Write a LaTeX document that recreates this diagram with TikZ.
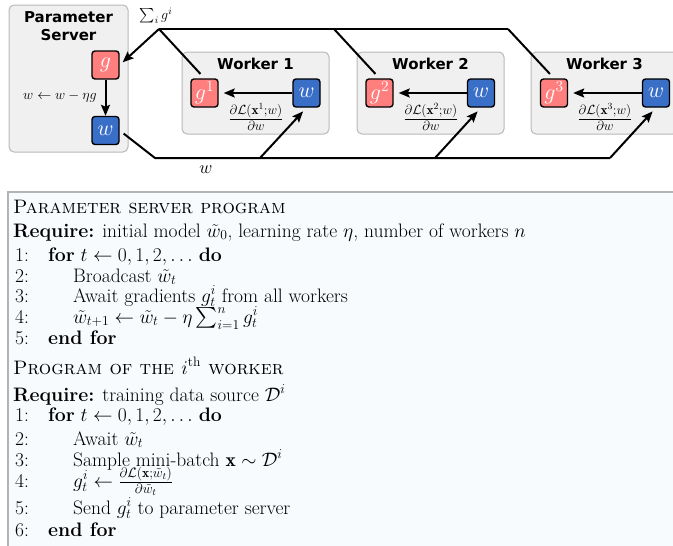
\RequirePackage{fix-cm}
\documentclass[tikz,border=0pt]{standalone}
\usepackage{fontspec}
\usepackage{amsmath}
\newfontfamily\boxfont{DejaVu Sans}
\usetikzlibrary{calc,arrows.meta}

\definecolor{gradred}{HTML}{FF7F7F}
\definecolor{weightblue}{HTML}{3A6FC8}
\definecolor{panelgray}{HTML}{F0F0F0}
\definecolor{panelline}{HTML}{B8B8B8}
\definecolor{algoback}{HTML}{F7FBFE}
\definecolor{algoline}{HTML}{B4B4B4}

\tikzset{
	panel/.style={draw=panelline, fill=panelgray, line width=1pt, rounded corners=5pt, inner sep=0pt},
	gbox/.style={draw=black, fill=gradred, line width=1.4pt, rounded corners=3pt, minimum width=27pt, minimum height=28pt, inner sep=0pt, text=white, font=\fontsize{22}{24}\selectfont},
	wbox/.style={gbox, fill=weightblue},
	wire/.style={line width=2pt},
	push/.style={wire, -{Stealth[length=11pt,width=9pt,inset=2pt]}},
	paneltitle/.style={font=\boxfont\bfseries\fontsize{15}{18}\selectfont, align=center, inner sep=0pt},
	mathlabel/.style={font=\fontsize{14}{16}\selectfont, inner sep=0pt},
	gradlabel/.style={font=\fontsize{19}{21}\selectfont, inner sep=0pt},
	algo/.style={anchor=base west, inner sep=0pt, font=\fontsize{19.5}{21}\selectfont},
}

\begin{document}
\begin{tikzpicture}[x=1pt,y=-1pt]
		%%%%% START %%%%%
		\useasboundingbox (0,0) rectangle (673,546);
		\clip (0,0) rectangle (673,546);
		
		% parameter server
		\node[panel, minimum width=119pt, minimum height=147pt] (server) at (68.5,78.5) {};
		\node[paneltitle] (servertitle) at (68.5,26) {Parameter\\Server};
		\node[gbox] (g) at (105.5,65) {$g$};
		\node[wbox] (w) at (105.5,130.5) {$w$};
		\draw[push] (g) -- (w);
		\node[mathlabel] (update) at (60,97) {$w \leftarrow w - \eta g$};
		
		% workers
		\node[panel, minimum width=147pt, minimum height=82pt] (worker1) at (255.5,93) {};
		\node[panel, minimum width=147pt, minimum height=82pt] (worker2) at (430.5,93) {};
		\node[panel, minimum width=147pt, minimum height=82pt] (worker3) at (604.5,93) {};
		\node[paneltitle] (title1) at (255.5,64) {Worker 1};
		\node[paneltitle] (title2) at (430.5,64) {Worker 2};
		\node[paneltitle] (title3) at (604.5,64) {Worker 3};
		
		\node[gbox] (g1) at (204.5,93) {$g^1$};
		\node[wbox] (w1) at (306.5,93) {$w$};
		\node[gbox] (g2) at (379.5,93) {$g^2$};
		\node[wbox] (w2) at (481,93) {$w$};
		\node[gbox] (g3) at (554,93) {$g^3$};
		\node[wbox] (w3) at (656,93) {$w$};
		
		\draw[push, shorten >=5pt] (w1) -- (g1);
		\draw[push, shorten >=5pt] (w2) -- (g2);
		\draw[push, shorten >=5pt] (w3) -- (g3);
		
		\node[gradlabel] (grad1) at (256,117) {$\frac{\partial\mathcal{L}(\mathbf{x}^1;w)}{\partial w}$};
		\node[gradlabel] (grad2) at (431,117) {$\frac{\partial\mathcal{L}(\mathbf{x}^2;w)}{\partial w}$};
		\node[gradlabel] (grad3) at (605,117) {$\frac{\partial\mathcal{L}(\mathbf{x}^3;w)}{\partial w}$};
		
		% gradients up to the server
		\coordinate (sumtop) at (159,29);
		\coordinate (top2) at (334,29);
		\coordinate (top3) at (508,29);
		\draw[wire] (top3) -- (sumtop);
		\draw[wire, shorten <=6pt] (g1.north) -- (sumtop);
		\draw[wire, shorten <=6pt] (g2.north) -- (top2);
		\draw[wire, shorten <=6pt] (g3.north) -- (top3);
		\draw[push, shorten >=4pt] (sumtop) -- (g.east);
		\node[mathlabel] (sumlabel) at (156,16) {$\sum_i g^i$};
		
		% weights down to the workers
		\coordinate (bend) at (155,158);
		\coordinate (low1) at (260,158);
		\coordinate (low2) at (435,158);
		\coordinate (low3) at (610,158);
		\draw[wire, shorten <=5pt] (w.east) -- (bend) -- (low3);
		\draw[push, shorten >=5pt] (low1) -- (w1.south);
		\draw[push, shorten >=5pt] (low2) -- (w2.south);
		\draw[push, shorten >=5pt] (low3) -- (w3.south);
		\node[mathlabel, font=\fontsize{18}{20}\selectfont] (wlabel) at (206,170) {$w$};
		
		% algorithms
		\node[draw=algoline, fill=algoback, line width=1.5pt, anchor=north west, minimum width=700pt, minimum height=400pt] (algobox) at (7,191) {};
		
		\node[algo] (ps) at (13,213) {\textsc{Parameter server program}};
		\node[algo] (psreq) at (13,237) {\textbf{Require:} initial model $\tilde{w}_0$, learning rate $\eta$, number of workers $n$};
		\node[algo] (psn1) at (15,261) {1:};
		\node[algo] (psn2) at (15,282) {2:};
		\node[algo] (psn3) at (15,302) {3:};
		\node[algo] (psn4) at (15,323) {4:};
		\node[algo] (psn5) at (15,344) {5:};
		\node[algo] (ps1) at (48,261) {\textbf{for} $t \leftarrow 0, 1, 2, \ldots$ \textbf{do}};
		\node[algo] (ps2) at (73,282) {Broadcast $\tilde{w}_t$};
		\node[algo] (ps3) at (73,302) {Await gradients $g_t^i$ from all workers};
		\node[algo] (ps4) at (73,323) {$\tilde{w}_{t+1} \leftarrow \tilde{w}_t - \eta \sum_{i=1}^{n} g_t^i$};
		\node[algo] (ps5) at (48,344) {\textbf{end for}};
		
		\node[algo] (wk) at (13,374) {\textsc{Program of the $i^{\mathrm{th}}$ worker}};
		\node[algo] (wkreq) at (13,401) {\textbf{Require:} training data source $\mathcal{D}^i$};
		\node[algo] (wkn1) at (15,421) {1:};
		\node[algo] (wkn2) at (15,445) {2:};
		\node[algo] (wkn3) at (15,466) {3:};
		\node[algo] (wkn4) at (15,487) {4:};
		\node[algo] (wkn5) at (15,514) {5:};
		\node[algo] (wkn6) at (15,536) {6:};
		\node[algo] (wk1) at (48,421) {\textbf{for} $t \leftarrow 0, 1, 2, \ldots$ \textbf{do}};
		\node[algo] (wk2) at (73,445) {Await $\tilde{w}_t$};
		\node[algo] (wk3) at (73,466) {Sample mini-batch $\mathbf{x} \sim \mathcal{D}^i$};
		\node[algo] (wk4) at (73,487) {$g_t^i \leftarrow \frac{\partial\mathcal{L}(\mathbf{x};\tilde{w}_t)}{\partial\tilde{w}_t}$};
		\node[algo] (wk5) at (73,514) {Send $g_t^i$ to parameter server};
		\node[algo] (wk6) at (48,536) {\textbf{end for}};
		%%%%% END %%%%%
\end{tikzpicture}
\end{document}
